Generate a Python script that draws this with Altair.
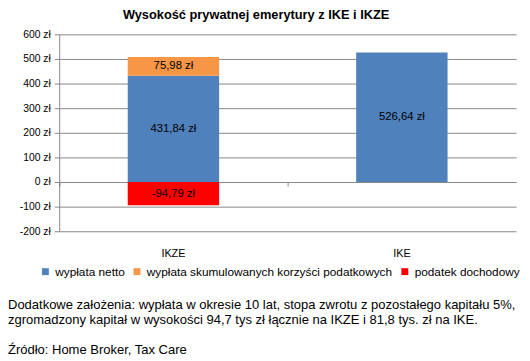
import altair as alt
import pandas as pd

# ---- data ----
categories = ["IKZE", "IKZE", "IKZE", "IKE"]
series = [
    "wypłata netto",
    "wypłata skumulowanych korzyści podatkowych",
    "podatek dochodowy",
    "wypłata netto",
]
values = [431.84, 75.98, -94.79, 526.64]
stack_order = [1, 2, 3, 1]

series_names = [
    "wypłata netto",
    "wypłata skumulowanych korzyści podatkowych",
    "podatek dochodowy",
]
series_colors = ["#4F81BD", "#F79646", "#FF0000"]
category_order = ["IKZE", "IKE"]
y_ticks = [-200, -100, 0, 100, 200, 300, 400, 500, 600]

title_text = "Wysokość  prywatnej emerytury z IKE  i IKZE"
note_lines = [
    "Dodatkowe założenia: wypłata w okresie 10 lat, stopa zwrotu z pozostałego kapitału 5%,",
    "zgromadzony kapitał w wysokości 94,7 tys zł łącznie na IKZE i 81,8 tys. zł na IKE.",
    "Źródło: Home Broker, Tax Care",
]

FONT = "Liberation Sans"

df = pd.DataFrame({
    "cat": categories,
    "series": series,
    "value": values,
    "ord": stack_order,
})
df["label"] = [f"{v:.2f}".replace(".", ",") + " zł" for v in values]

W, H = 464, 200

base = alt.Chart(df).transform_stack(
    stack="value",
    groupby=["cat"],
    as_=["y0", "y1"],
    sort=[alt.SortField("ord")],
).transform_calculate(mid="(datum.y0 + datum.y1) / 2")

xscale = alt.Scale(domain=category_order, paddingInner=0, paddingOuter=0)
yscale = alt.Scale(domain=[-200, 600], nice=False, zero=False)
yaxis = alt.Axis(values=y_ticks, labelExpr="datum.value + ' zł'",
                 grid=True, tickSize=5, labelPadding=4,
                 labelFontSize=10.5, labelOverlap=False)

bars = base.mark_bar(width={"band": 0.4}).encode(
    x=alt.X("cat:N", scale=xscale, sort=category_order, title=None,
            axis=alt.Axis(domain=False, ticks=False, labelAngle=0,
                          labelPadding=17, labelFontSize=11, grid=False)),
    y=alt.Y("y0:Q", scale=yscale, title=None, axis=yaxis),
    y2="y1:Q",
    color=alt.Color("series:N",
                    scale=alt.Scale(domain=series_names, range=series_colors),
                    sort=series_names, title=None,
                    legend=alt.Legend(orient="none", direction="horizontal",
                                      legendX=-20, legendY=235,
                                      symbolType="square", symbolSize=49,
                                      symbolStrokeWidth=0,
                                      labelFontSize=12, labelFont=FONT,
                                      columnPadding=6, labelLimit=400,
                                      symbolOffset=0)),
)

labels = base.mark_text(font=FONT, fontSize=11.5, color="black").encode(
    x=alt.X("cat:N", scale=xscale, sort=category_order, axis=None),
    y=alt.Y("mid:Q", scale=yscale, title=None, axis=yaxis),
    text="label:N",
)

# category axis drawn at the zero line (Excel style)
zero_axis = alt.Chart(df).mark_tick(opacity=0).encode(
    x=alt.X("cat:N", scale=xscale, sort=category_order, title=None,
            axis=alt.Axis(orient="bottom", offset=-50, labels=False,
                          ticks=True, bandPosition=0, tickSize=4,
                          domain=False, grid=False, tickExtra=True)),
)

title_df = pd.DataFrame({"t": [title_text]})
title = alt.Chart(title_df).mark_text(
    font=FONT, fontSize=13, fontWeight="bold", color="black", align="center"
).encode(x=alt.value(200), y=alt.value(-20), text="t:N")

note_layers = []
note_y = [275, 290.5, 321]
for line, yy in zip(note_lines, note_y):
    note_layers.append(
        alt.Chart(pd.DataFrame({"t": [line]})).mark_text(
            font=FONT, fontSize=13.2, color="black", align="left",
            baseline="middle"
        ).encode(x=alt.value(-52), y=alt.value(yy), text="t:N")
    )

chart = alt.layer(bars, labels, zero_axis, title, *note_layers).resolve_axis(
    x="independent"
).properties(
    width=W, height=H,
    autosize=alt.AutoSizeParams(type="none"),
    padding={"left": 52, "top": 24, "right": 6, "bottom": 128},
).configure_view(stroke=None).configure_axis(
    labelFont=FONT, labelColor="black",
    gridColor="#868686", domainColor="#868686", tickColor="#868686",
    gridWidth=1, domainWidth=1,
)

chart.save("out.html", embed_options={"renderer": "svg", "actions": False})
